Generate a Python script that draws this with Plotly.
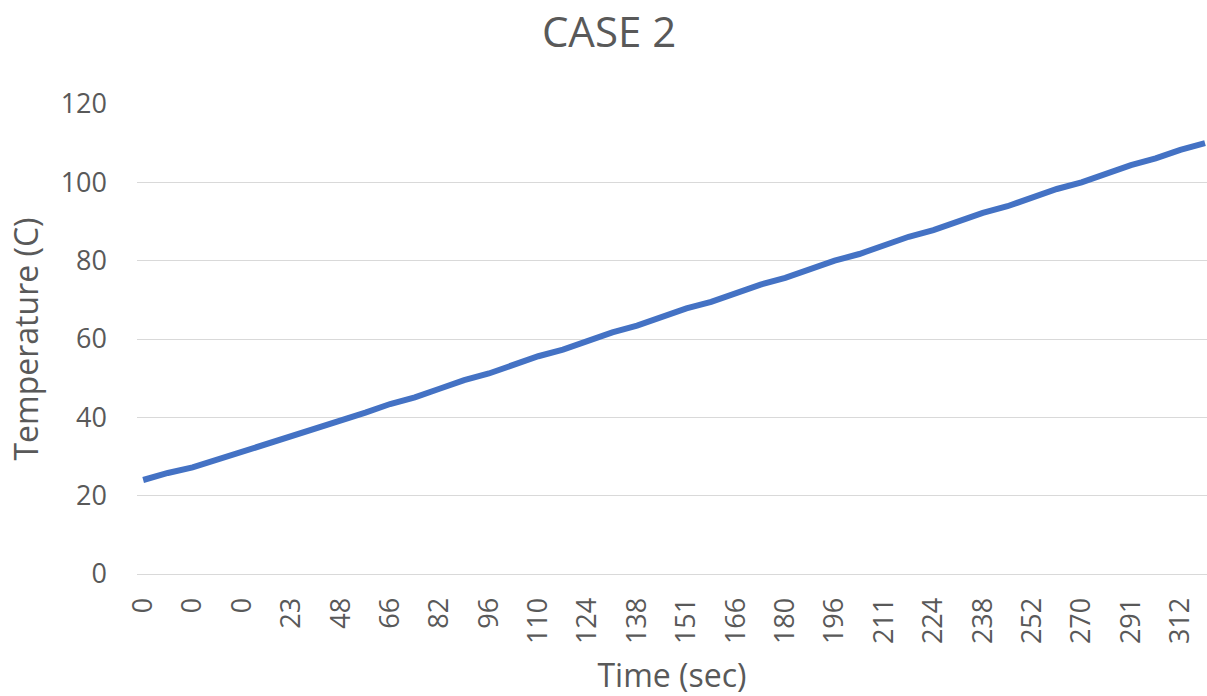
import plotly.graph_objects as go

# Time labels shown on the category axis (every second category is labelled)
time_labels = ["0", "0", "0", "23", "48", "66", "82", "96", "110", "124", "138",
               "151", "166", "180", "196", "211", "224", "238", "252", "270", "291", "312"]

# Temperature readings (C), one per category
temperature = [24.0, 25.8, 27.2, 29.2, 31.3, 32.9, 35.1, 37.3, 39.0, 41.2,
               43.4, 45.1, 47.3, 49.5, 51.2, 53.4, 55.6, 57.3, 59.5, 61.7,
               63.4, 65.6, 67.8, 69.5, 71.7, 73.9, 75.6, 77.8, 80.0, 81.7,
               83.9, 86.1, 87.8, 90.0, 92.2, 93.9, 96.1, 98.3, 100.0, 102.2,
               104.4, 106.1, 108.3, 110.0]

x_idx = list(range(len(temperature)))
tick_positions = list(range(0, 2 * len(time_labels), 2))

FONT = "Open Sans"
GRAY = "#595959"

fig = go.Figure()
fig.add_trace(go.Scatter(
    x=x_idx, y=temperature, mode="lines",
    line=dict(color="#4472C4", width=6),
    hoverinfo="skip", showlegend=False,
))

fig.update_layout(
    width=1207, height=696,
    paper_bgcolor="white", plot_bgcolor="white",
    margin=dict(l=137, r=0, t=104, b=122),
    title=dict(text="CASE 2", x=0.5046, xref="container", xanchor="center",
               y=0.954, yref="container", yanchor="middle",
               font=dict(family=FONT, size=42, color=GRAY)),
    font=dict(family=FONT, color=GRAY),
    xaxis=dict(
        range=[-0.25, 43.08],
        tickmode="array", tickvals=tick_positions, ticktext=time_labels,
        tickangle=-90, tickfont=dict(family=FONT, size=27, color=GRAY),
        showgrid=False, zeroline=False,
        showline=True, linecolor="#d9d9d9", linewidth=1,
        ticks="", ticklabelstandoff=12,
        title=dict(text="Time (sec)", font=dict(family=FONT, size=32, color=GRAY),
                   standoff=23),
    ),
    yaxis=dict(
        range=[0, 120], tickmode="array", tickvals=[0, 20, 40, 60, 80, 100, 120],
        tickfont=dict(family=FONT, size=27, color=GRAY),
        showgrid=True, gridcolor="#d9d9d9", gridwidth=1.3,
        zeroline=False, showline=False, ticks="", ticklabelstandoff=29,
        title=dict(text="Temperature (C)", font=dict(family=FONT, size=32, color=GRAY),
                   standoff=12),
    ),
)

fig.write_html(
    "out.html",
    config={"displayModeBar": False},
    post_script="document.body.style.margin='0';document.body.style.overflow='hidden';",
)
